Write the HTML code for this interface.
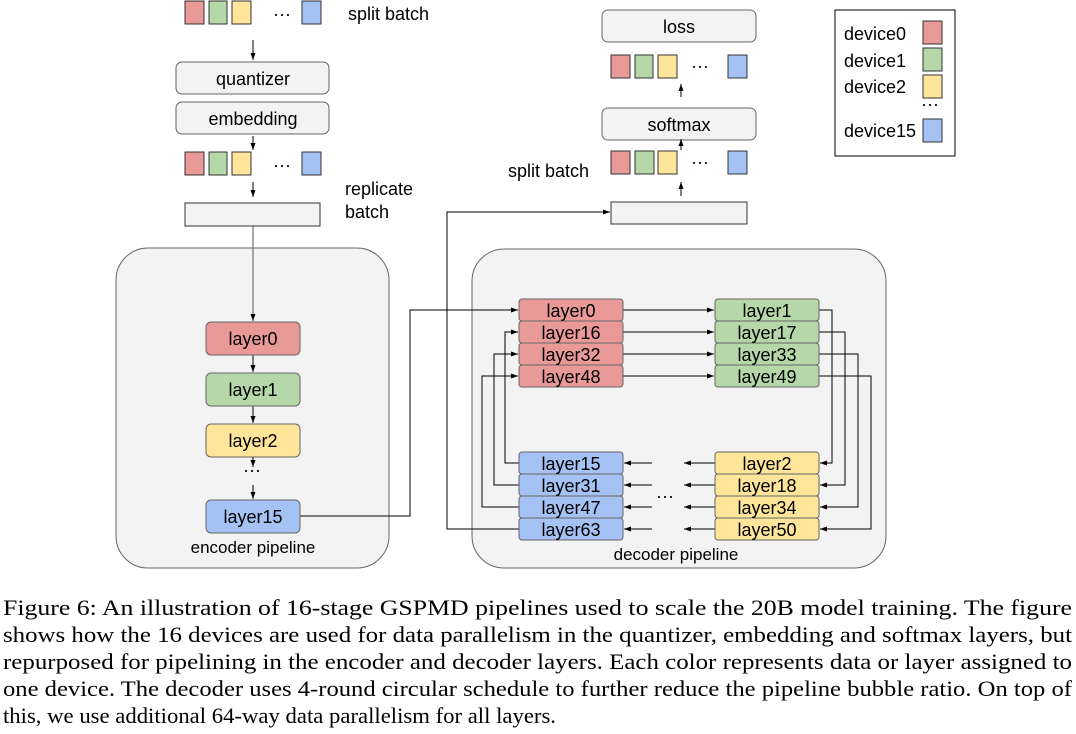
<!DOCTYPE html>
<html><head><meta charset="utf-8"><style>
html,body{margin:0;padding:0;background:#fff;}
svg{display:block;}
.s{font-family:"Liberation Sans",sans-serif;font-size:18px;fill:#000;}
.c{font-family:"Liberation Serif",serif;font-size:22.5px;fill:#000;}
</style></head><body>
<svg width="1076" height="734" viewBox="0 0 1076 734" xmlns="http://www.w3.org/2000/svg">
<defs><marker id="a" markerWidth="8" markerHeight="8" refX="7" refY="4" orient="auto" markerUnits="userSpaceOnUse"><path d="M0,1.5 L7,4 L0,6.5 z" fill="#000"/></marker></defs>
<g stroke="#333" stroke-width="1">
<rect x="185" y="1" width="19" height="23" fill="#ea9999"/>
<rect x="209" y="1" width="18" height="23" fill="#b6d7a8"/>
<rect x="232" y="1" width="19" height="23" fill="#ffe599"/>
<rect x="302" y="1" width="19" height="23" fill="#a4c2f4"/>
<rect x="185" y="152" width="19" height="23" fill="#ea9999"/>
<rect x="209" y="152" width="18" height="23" fill="#b6d7a8"/>
<rect x="232" y="152" width="19" height="23" fill="#ffe599"/>
<rect x="302" y="152" width="19" height="23" fill="#a4c2f4"/>
</g>
<g stroke="#666" stroke-width="1" fill="#f3f3f3">
<rect x="176" y="62" width="153" height="32" rx="6"/>
<rect x="176" y="102" width="153" height="32" rx="6"/>
<rect x="185" y="203" width="135" height="23" stroke="#333"/>
<rect x="116" y="248" width="273" height="320" rx="32"/>
<rect x="472" y="249" width="414" height="319" rx="32"/>
<rect x="602" y="10" width="154" height="32" rx="6"/>
<rect x="602" y="108" width="154" height="32" rx="6"/>
<rect x="611" y="202" width="136" height="22" stroke="#333"/>
</g>
<g class="s" text-anchor="middle">
<text x="253" y="85">quantizer</text>
<text x="253" y="125">embedding</text>
<text x="679" y="33">loss</text>
<text x="679" y="131">softmax</text>
</g>
<g class="s">
<text x="348" y="20">split batch</text>
<text x="345" y="195">replicate</text>
<text x="345" y="218">batch</text>
<text x="508" y="177">split batch</text>
<text x="273" y="20">···</text>
<text x="273" y="171">···</text>
<text x="691" y="72">···</text>
<text x="691" y="168">···</text>
</g>
<g stroke="#333">
<rect x="611" y="55" width="19" height="23" fill="#ea9999"/>
<rect x="635" y="55" width="18" height="23" fill="#b6d7a8"/>
<rect x="658" y="55" width="19" height="23" fill="#ffe599"/>
<rect x="728" y="55" width="19" height="23" fill="#a4c2f4"/>
<rect x="611" y="151" width="19" height="23" fill="#ea9999"/>
<rect x="635" y="151" width="19" height="23" fill="#b6d7a8"/>
<rect x="658" y="151" width="19" height="23" fill="#ffe599"/>
<rect x="728" y="151" width="19" height="23" fill="#a4c2f4"/>
</g>
<rect x="835" y="10" width="120" height="146" fill="#fff" stroke="#000"/>
<g stroke="#333">
<rect x="923" y="21" width="19" height="23" fill="#ea9999"/>
<rect x="923" y="48" width="19" height="23" fill="#b6d7a8"/>
<rect x="923" y="75" width="19" height="23" fill="#ffe599"/>
<rect x="923" y="119" width="19" height="23" fill="#a4c2f4"/>
</g>
<g class="s">
<text x="844" y="40">device0</text>
<text x="844" y="67">device1</text>
<text x="844" y="93">device2</text>
<text x="921" y="110">···</text>
<text x="844" y="137">device15</text>
</g>
<g stroke="#000" stroke-width="1" fill="none">
<line x1="253" y1="40" x2="253" y2="60" marker-end="url(#a)"/>
<line x1="253" y1="136" x2="253" y2="150" marker-end="url(#a)"/>
<line x1="253" y1="182" x2="253" y2="197" marker-end="url(#a)"/>
<line x1="253" y1="226" x2="253" y2="321" marker-end="url(#a)" stroke="#555"/>
<line x1="253" y1="355" x2="253" y2="372" marker-end="url(#a)"/>
<line x1="253" y1="406" x2="253" y2="423" marker-end="url(#a)"/>
<line x1="253" y1="457" x2="253" y2="467" marker-end="url(#a)"/>
<line x1="253" y1="485" x2="253" y2="499" marker-end="url(#a)"/>
<line x1="681" y1="97" x2="681" y2="84" marker-end="url(#a)"/>
<line x1="681" y1="150" x2="681" y2="139" marker-end="url(#a)"/>
<line x1="681" y1="196" x2="681" y2="182" marker-end="url(#a)"/>
<polyline points="300,516 410,516 410,310 518,310" marker-end="url(#a)"/>
<polyline points="519,529 447,529 447,212 610,212" marker-end="url(#a)"/>
<line x1="623" y1="310" x2="714" y2="310" marker-end="url(#a)"/>
<line x1="623" y1="332" x2="714" y2="332" marker-end="url(#a)"/>
<line x1="623" y1="354" x2="714" y2="354" marker-end="url(#a)"/>
<line x1="623" y1="376" x2="714" y2="376" marker-end="url(#a)"/>
<polyline points="819,310 832,310 832,463 820,463" marker-end="url(#a)"/>
<polyline points="819,332 845,332 845,485 820,485" marker-end="url(#a)"/>
<polyline points="819,354 858,354 858,507 820,507" marker-end="url(#a)"/>
<polyline points="819,376 871,376 871,529 820,529" marker-end="url(#a)"/>
<polyline points="519,463 505,463 505,332 518,332" marker-end="url(#a)"/>
<polyline points="519,485 494,485 494,354 518,354" marker-end="url(#a)"/>
<polyline points="519,507 482,507 482,376 518,376" marker-end="url(#a)"/>
<line x1="715" y1="463" x2="684" y2="463" marker-end="url(#a)"/>
<line x1="715" y1="485" x2="684" y2="485" marker-end="url(#a)"/>
<line x1="715" y1="507" x2="684" y2="507" marker-end="url(#a)"/>
<line x1="715" y1="529" x2="684" y2="529" marker-end="url(#a)"/>
<line x1="652" y1="463" x2="624" y2="463" marker-end="url(#a)"/>
<line x1="652" y1="485" x2="624" y2="485" marker-end="url(#a)"/>
<line x1="652" y1="507" x2="624" y2="507" marker-end="url(#a)"/>
<line x1="652" y1="529" x2="624" y2="529" marker-end="url(#a)"/>
</g>
<g stroke="#666">
<rect x="206" y="322" width="94" height="33" rx="5" fill="#ea9999"/>
<rect x="206" y="373" width="94" height="33" rx="5" fill="#b6d7a8"/>
<rect x="206" y="424" width="94" height="33" rx="5" fill="#ffe599"/>
<rect x="206" y="500" width="94" height="33" rx="5" fill="#a4c2f4"/>
</g>
<g class="s" text-anchor="middle">
<text x="253" y="345">layer0</text>
<text x="253" y="396">layer1</text>
<text x="253" y="447">layer2</text>
<text x="253" y="523">layer15</text>
<text x="253" y="553" font-size="17">encoder pipeline</text>
<text x="676" y="560" font-size="17">decoder pipeline</text>
</g>
<text class="s" x="243" y="476">···</text>
<text class="s" x="656" y="502">···</text>
<g stroke="#666">
<rect x="519" y="299" width="104" height="22" rx="3" fill="#ea9999"/>
<rect x="519" y="321" width="104" height="22" rx="3" fill="#ea9999"/>
<rect x="519" y="343" width="104" height="22" rx="3" fill="#ea9999"/>
<rect x="519" y="365" width="104" height="22" rx="3" fill="#ea9999"/>
<rect x="715" y="299" width="104" height="22" rx="3" fill="#b6d7a8"/>
<rect x="715" y="321" width="104" height="22" rx="3" fill="#b6d7a8"/>
<rect x="715" y="343" width="104" height="22" rx="3" fill="#b6d7a8"/>
<rect x="715" y="365" width="104" height="22" rx="3" fill="#b6d7a8"/>
<rect x="519" y="452" width="104" height="22" rx="3" fill="#a4c2f4"/>
<rect x="519" y="474" width="104" height="22" rx="3" fill="#a4c2f4"/>
<rect x="519" y="496" width="104" height="22" rx="3" fill="#a4c2f4"/>
<rect x="519" y="518" width="104" height="22" rx="3" fill="#a4c2f4"/>
<rect x="715" y="452" width="104" height="22" rx="3" fill="#ffe599"/>
<rect x="715" y="474" width="104" height="22" rx="3" fill="#ffe599"/>
<rect x="715" y="496" width="104" height="22" rx="3" fill="#ffe599"/>
<rect x="715" y="518" width="104" height="22" rx="3" fill="#ffe599"/>
</g>
<g class="s" text-anchor="middle">
<text x="571" y="317">layer0</text><text x="571" y="339">layer16</text><text x="571" y="361">layer32</text><text x="571" y="383">layer48</text>
<text x="767" y="317">layer1</text><text x="767" y="339">layer17</text><text x="767" y="361">layer33</text><text x="767" y="383">layer49</text>
<text x="571" y="470">layer15</text><text x="571" y="492">layer31</text><text x="571" y="514">layer47</text><text x="571" y="536">layer63</text>
<text x="767" y="470">layer2</text><text x="767" y="492">layer18</text><text x="767" y="514">layer34</text><text x="767" y="536">layer50</text>
</g>
<g class="c">
<text x="3" y="615" textLength="1069" lengthAdjust="spacingAndGlyphs">Figure 6: An illustration of 16-stage GSPMD pipelines used to scale the 20B model training. The figure</text>
<text x="3" y="642" textLength="1069" lengthAdjust="spacingAndGlyphs">shows how the 16 devices are used for data parallelism in the quantizer, embedding and softmax layers, but</text>
<text x="3" y="669" textLength="1069" lengthAdjust="spacingAndGlyphs">repurposed for pipelining in the encoder and decoder layers. Each color represents data or layer assigned to</text>
<text x="3" y="696" textLength="1069" lengthAdjust="spacingAndGlyphs">one device. The decoder uses 4-round circular schedule to further reduce the pipeline bubble ratio. On top of</text>
<text x="3" y="723" textLength="553" lengthAdjust="spacingAndGlyphs">this, we use additional 64-way data parallelism for all layers.</text>
</g>
</svg>
</body></html>
